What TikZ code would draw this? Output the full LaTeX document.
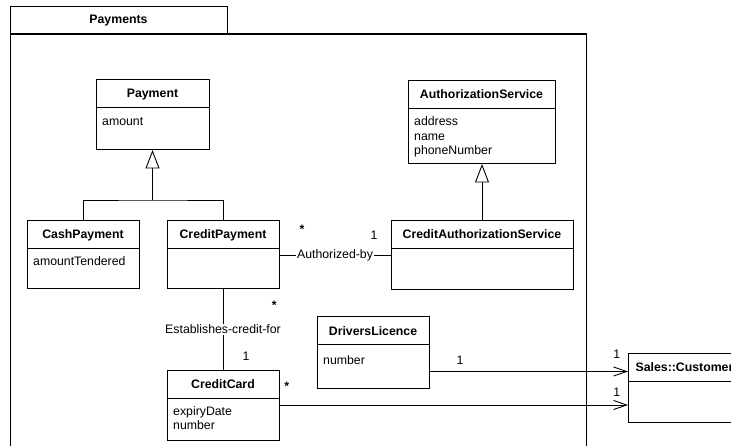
\documentclass[tikz,border=0pt]{standalone}
\usepackage{fontspec}
\setmainfont{Liberation Sans}
\usetikzlibrary{arrows.meta,calc}

\newcommand\diagfont{\fontsize{12.3}{14.3}\selectfont}

\tikzset{
  classbox/.style={draw, line width=1pt, inner sep=0pt, outer sep=0pt, anchor=north west},
  classtitle/.style={font=\diagfont\bfseries, anchor=base, inner sep=0pt},
  attr/.style={font=\diagfont, anchor=base west, inner sep=0pt},
  gen/.style={line width=0.9pt, -{Triangle[open, length=18.5pt, width=14pt, line width=0.9pt]}},
  assoc/.style={line width=0.9pt},
  nav/.style={line width=0.9pt, -{Straight Barb[length=13pt, width=9pt, line width=0.9pt]}},
  mult/.style={font=\diagfont, anchor=base, inner sep=0pt},
  star/.style={font=\diagfont\bfseries, anchor=base, inner sep=0pt},
  rolelabel/.style={font=\diagfont, fill=white, inner sep=1pt},
}

% class box: name, x, y, width, height, title (compartment divider 28 below top)
\newcommand\umlclass[6]{%
  \node[classbox, minimum width=#4pt, minimum height=#5pt] (#1) at (#2,#3) {};
  \draw[line width=1pt] ($(#1.north west)+(0,28)$) -- ($(#1.north east)+(0,28)$);
  \node[classtitle] (#1-title) at ($(#1.north)+(0,18)$) {#6};
}

\begin{document}
\begin{tikzpicture}[x=1pt, y=-1pt]
  \clip (0,0) rectangle (731,446);
  \fill[white] (0,0) rectangle (731,446);

  % package frame with its tab
  \node[draw, line width=1pt, anchor=north west, minimum width=576pt, minimum height=450pt,
        inner sep=0pt, outer sep=0pt] (pkg) at (10,34) {};
  \node[draw, line width=1pt, anchor=north west, minimum width=217pt, minimum height=27pt,
        inner sep=0pt, outer sep=0pt, font=\diagfont\bfseries] (pkgtab) at (10,7) {Payments};
  \draw[line width=1.6pt] (pkg.north west) -- (pkg.north east);

  % classes
  \umlclass{pay}{96}{80}{113}{70}{Payment}
  \node[attr] (pay-a1) at (102,126) {amount};

  \umlclass{cash}{27}{221}{112}{68}{CashPayment}
  \node[attr] (cash-a1) at (33,265.5) {amountTendered};

  \umlclass{credit}{167}{221}{112}{68}{CreditPayment}

  \umlclass{auth}{408}{81}{147}{83}{AuthorizationService}
  \node[attr] (auth-a1) at (414,125.8) {address};
  \node[attr] (auth-a2) at (414,140.1) {name};
  \node[attr] (auth-a3) at (414,154.4) {phoneNumber};

  \umlclass{cas}{391}{221}{182}{69}{CreditAuthorizationService}

  \umlclass{dl}{317}{317}{112}{71}{DriversLicence}
  \node[attr] (dl-a1) at (323,364) {number};

  \umlclass{cc}{167}{370}{112}{70}{CreditCard}
  \node[attr] (cc-a1) at (173,415.5) {expiryDate};
  \node[attr] (cc-a2) at (173,429.8) {number};

  \umlclass{cust}{628}{353}{113}{69}{Sales::Customer}

  % generalizations
  \coordinate (gp) at ($(pay.south)+(0,50)$);
  \draw[assoc] (cash.north) |- (gp) -| (credit.north);
  \draw[gen] (gp) -- (pay.south);
  \draw[gen] (cas.north) -- (cas.north |- auth.south);

  % associations
  \draw[assoc] (credit.east) -- node[rolelabel] (lab1) {Authorized-by} (credit.east -| cas.west);
  \draw[assoc] (credit.south) -- node[rolelabel] (lab2) {Establishes-credit-for} (cc.north);

  % navigable associations to the customer
  \draw[nav] ($(dl.north east)+(0,54.5)$) -- ($(cust.north west)+(0,18.5)$);
  \draw[nav] (cc.east) -- (cc.east -| cust.west);

  % multiplicities
  \node[star] (m1) at (302,234) {*};
  \node[mult] (m2) at (374,239.5) {1};
  \node[star] (m3) at (274.3,309.8) {*};
  \node[mult] (m4) at (246,360.4) {1};
  \node[star] (m5) at (286.7,390.4) {*};
  \node[mult] (m6) at (460,364.4) {1};
  \node[mult] (m7) at (616.7,358.4) {1};
  \node[mult] (m8) at (616.7,396) {1};
\end{tikzpicture}
\end{document}
